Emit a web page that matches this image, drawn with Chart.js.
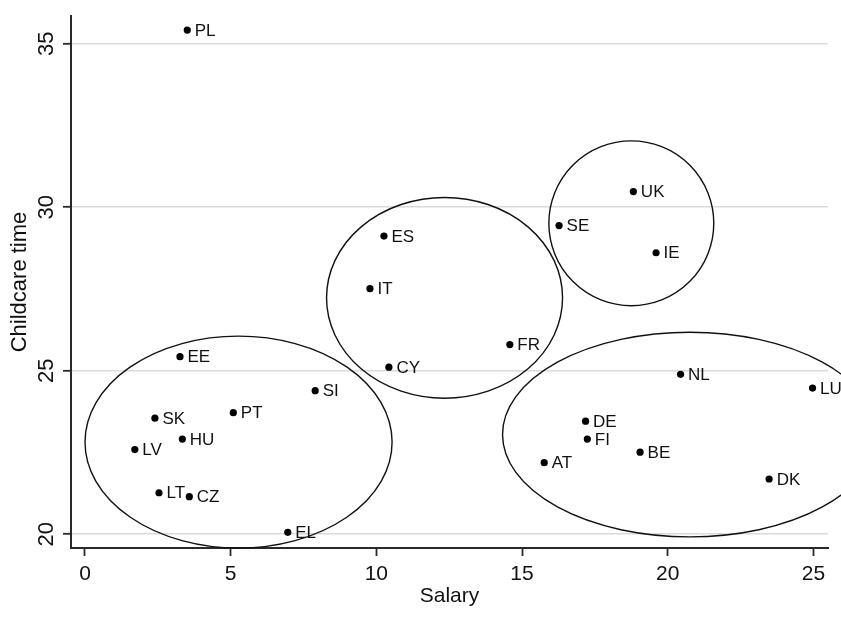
<!DOCTYPE html>
<html>
<head>
<meta charset="utf-8">
<title>Childcare time and salary</title>
<script src="https://cdn.jsdelivr.net/npm/chart.js@4/dist/chart.umd.min.js"></script>
<style>
  html, body { margin: 0; padding: 0; background: #ffffff; }
  #wrap { width: 841px; height: 630px; }
</style>
</head>
<body>
<div id="wrap"><canvas id="chart" width="841" height="630"></canvas></div>
<script>
const countries = ['PL','EE','SK','PT','HU','LV','LT','CZ','EL','SI','ES','IT','FR','CY','UK','SE','IE','NL','LU','DE','FI','BE','AT','DK'];
const salary = [3.51,3.26,2.40,5.09,3.34,1.71,2.54,3.58,6.96,7.90,10.26,9.78,14.58,10.43,18.82,16.27,19.60,20.44,24.97,17.18,17.24,19.05,15.76,23.48];
const childcareTime = [35.42,25.43,23.55,23.72,22.91,22.59,21.27,21.15,20.06,24.39,29.12,27.51,25.80,25.11,30.48,29.44,28.61,24.89,24.47,23.46,22.91,22.51,22.19,21.69];
const xTickValues = [0, 5, 10, 15, 20, 25];
const yTickValues = [20, 25, 30, 35];

// Country groups, each outlined by an ellipse (centre and half-axes in axis units)
const groupCentreSalary = [5.27, 12.34, 18.75, 20.76];
const groupCentreTime = [22.82, 27.23, 29.51, 23.05];
const groupHalfSalary = [5.27, 4.05, 2.83, 6.43];
const groupHalfTime = [3.24, 3.07, 2.52, 3.13];

const FONT = '"Liberation Sans", Arial, Helvetica, sans-serif';
const TEXT = '#111111';
const AXIS = '#2a2a2a';

const points = salary.map((s, i) => ({ x: s, y: childcareTime[i] }));

// Ellipses around the country groups
const groupEllipses = {
  id: 'groupEllipses',
  afterDatasetsDraw(chart) {
    const { ctx, scales: { x, y } } = chart;
    ctx.save();
    ctx.strokeStyle = '#111111';
    ctx.lineWidth = 1.4;
    groupCentreSalary.forEach((cs, i) => {
      const cx = x.getPixelForValue(cs);
      const cy = y.getPixelForValue(groupCentreTime[i]);
      const rx = Math.abs(x.getPixelForValue(cs + groupHalfSalary[i]) - cx);
      const ry = Math.abs(y.getPixelForValue(groupCentreTime[i] + groupHalfTime[i]) - cy);
      ctx.beginPath();
      ctx.ellipse(cx, cy, rx, ry, 0, 0, Math.PI * 2);
      ctx.stroke();
    });
    ctx.restore();
  }
};

// Country codes to the right of each marker
const countryLabels = {
  id: 'countryLabels',
  afterDatasetsDraw(chart) {
    const { ctx, scales: { x, y } } = chart;
    ctx.save();
    ctx.font = '17px ' + FONT;
    ctx.fillStyle = TEXT;
    ctx.textAlign = 'left';
    ctx.textBaseline = 'middle';
    countries.forEach((c, i) => {
      const px = x.getPixelForValue(salary[i]);
      const py = y.getPixelForValue(childcareTime[i]);
      ctx.fillText(c, px + 7.5, py + 1);
    });
    ctx.restore();
  }
};

// Vertical tick labels on the y axis, reading upwards
const verticalYTicks = {
  id: 'verticalYTicks',
  afterDraw(chart) {
    const { ctx, scales: { y } } = chart;
    ctx.save();
    ctx.font = '22px ' + FONT;
    ctx.fillStyle = TEXT;
    ctx.textAlign = 'center';
    ctx.textBaseline = 'alphabetic';
    y.ticks.forEach(t => {
      const py = y.getPixelForValue(t.value);
      ctx.save();
      ctx.translate(53, py);
      ctx.rotate(-Math.PI / 2);
      ctx.fillText(String(t.value), 0, 0);
      ctx.restore();
    });
    ctx.restore();
  }
};

new Chart(document.getElementById('chart'), {
  type: 'scatter',
  data: {
    datasets: [{
      label: 'Childcare time',
      data: points,
      pointRadius: 3.6,
      pointHoverRadius: 3.6,
      pointBackgroundColor: '#000000',
      pointBorderWidth: 0,
      showLine: false
    }]
  },
  options: {
    responsive: false,
    animation: false,
    devicePixelRatio: 1,
    layout: { padding: { left: 0, top: 16, right: 13, bottom: 0 } },
    plugins: {
      legend: { display: false },
      tooltip: { enabled: false },
      title: { display: false }
    },
    scales: {
      x: {
        type: 'linear',
        min: -0.48,
        max: 25.5,
        afterBuildTicks: s => { s.ticks = xTickValues.map(v => ({ value: v })); },
        afterFit: s => { s.height = 82; },
        grid: { drawOnChartArea: false, drawTicks: true, tickLength: 8, tickColor: AXIS, tickWidth: 1.8 },
        border: { display: true, color: AXIS, width: 2 },
        ticks: { color: TEXT, font: { family: FONT, size: 21 }, padding: 6, maxRotation: 0 },
        title: { display: true, text: 'Salary', color: TEXT, font: { family: FONT, size: 21 }, padding: { top: 0, bottom: 21.5 } }
      },
      y: {
        type: 'linear',
        min: 19.58,
        max: 35.85,
        afterBuildTicks: s => { s.ticks = yTickValues.map(v => ({ value: v })); },
        afterFit: s => { s.width = 71; },
        grid: { color: '#dadada', lineWidth: 1.6, drawTicks: true, tickLength: 8, tickColor: AXIS, tickWidth: 1.8 },
        border: { display: true, color: AXIS, width: 2 },
        ticks: { display: false },
        title: { display: true, text: 'Childcare time', color: TEXT, font: { family: FONT, size: 22 }, padding: { top: 7, bottom: 0 } }
      }
    }
  },
  plugins: [groupEllipses, countryLabels, verticalYTicks]
});
</script>
</body>
</html>
